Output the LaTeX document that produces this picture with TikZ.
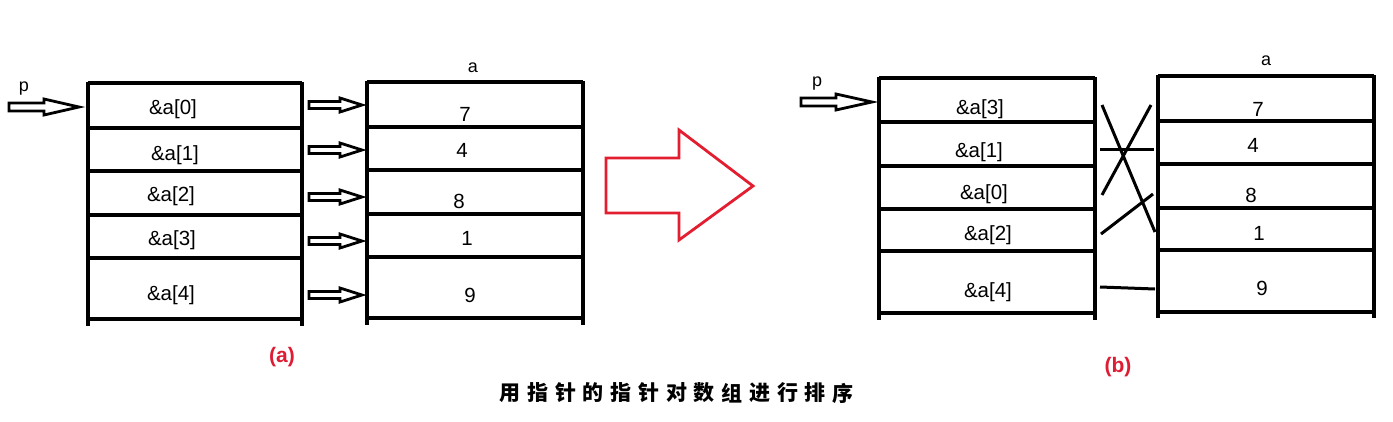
\documentclass[tikz,border=0pt]{standalone}
\usepackage{fontspec}
\setmainfont{Liberation Sans}
\newfontfamily\cjk{Noto Sans CJK SC Black}
\definecolor{lblred}{RGB}{222,28,52}
\definecolor{bigred}{RGB}{226,30,48}
\begin{document}
\begin{tikzpicture}[x=1pt,y=-1pt,
  grid/.style={line width=3.2pt,black},
  cell/.style={font=\fontsize{20.5}{22}\selectfont,inner sep=0pt,anchor=center},
  addr/.style={cell,yshift=-2pt},
  small/.style={font=\fontsize{18}{20}\selectfont,inner sep=0pt,anchor=center},
  lbl/.style={font=\bfseries\fontsize{21}{23}\selectfont,text=lblred,inner sep=0pt},
  hol/.style={line width=2.8pt,black,line join=miter},
  cross/.style={line width=3pt,black}]
\useasboundingbox (0,0) rectangle (1393,421);

% ---------- (a) left table
\foreach \y in {83,128,171,215,258,319} \draw[grid] (88,\y) -- (302,\y);
\draw[grid] (88,82) -- (88,326);
\draw[grid] (302,82) -- (302,326);
\node[addr] (pa0) at (173,107) {\&a[0]};
\node[addr] (pa1) at (175,153) {\&a[1]};
\node[addr] (pa2) at (171,194) {\&a[2]};
\node[addr] (pa3) at (172,238) {\&a[3]};
\node[addr] (pa4) at (171,293) {\&a[4]};
% ---------- (a) array a
\foreach \y in {82,127,170,214,257,318} \draw[grid] (367,\y) -- (583,\y);
\draw[grid] (367,81) -- (367,325);
\draw[grid] (583,81) -- (583,325);
\node[small] (aa) at (473,68) {a};
\node[cell] (v0) at (465,114) {7};
\node[cell] (v1) at (462,150) {4};
\node[cell] (v2) at (459,201) {8};
\node[cell] (v3) at (467,238) {1};
\node[cell] (v4) at (470,295) {9};
\node[small] (pp1) at (24,89) {p};

% hollow arrows
\coordinate (pstart) at (9,107);
\draw[hol] (pstart) ++(0,-4) -- ++(35,0) -- ++(0,-4) -- ++(35,8) -- ++(-35,8) -- ++(0,-4) -- ++(-35,0) -- cycle;
\foreach \y in {105,150,197,241,295}{
  \coordinate (h\y) at (309,\y);
  \draw[hol] (h\y) ++(0,-3.5) -- ++(31,0) -- ++(0,-3.5) -- ++(22,7) -- ++(-22,7) -- ++(0,-3.5) -- ++(-31,0) -- cycle;
}
\node[lbl] (la) at (282,357) {(a)};

% big red arrow
\draw[bigred,line width=2.8pt,line join=miter] (606,158) -- (679,158) -- (679,130) -- (753,186) -- (679,240) -- (679,213) -- (606,213) -- cycle;

% ---------- (b) left table
\foreach \y in {78,122,166,209,251,313} \draw[grid] (879,\y) -- (1095,\y);
\draw[grid] (879,77) -- (879,320);
\draw[grid] (1095,77) -- (1095,320);
\node[addr] (qa3) at (980,107) {\&a[3]};
\node[addr] (qa1) at (979,150) {\&a[1]};
\node[addr] (qa0) at (984,192) {\&a[0]};
\node[addr] (qa2) at (988,233) {\&a[2]};
\node[addr] (qa4) at (988,290) {\&a[4]};
\node[small] (pp2) at (817,84) {p};
\coordinate (qstart) at (801,102);
\draw[hol] (qstart) ++(0,-4) -- ++(35,0) -- ++(0,-4) -- ++(36,8) -- ++(-36,8) -- ++(0,-4) -- ++(-35,0) -- cycle;

% ---------- (b) array a
\foreach \y in {76,121,164,208,250,312} \draw[grid] (1158,\y) -- (1374,\y);
\draw[grid] (1158,75) -- (1158,318);
\draw[grid] (1374,75) -- (1374,318);
\node[small] (ab) at (1266,61) {a};
\node[cell] (w0) at (1258,109) {7};
\node[cell] (w1) at (1253,145) {4};
\node[cell] (w2) at (1251,195) {8};
\node[cell] (w3) at (1259,233) {1};
\node[cell] (w4) at (1262,288) {9};

% crossing links
\coordinate (s3) at (1102,105); \coordinate (t3) at (1155,232);
\coordinate (s0) at (1102,195); \coordinate (t0) at (1151,105);
\coordinate (s1) at (1100,149); \coordinate (t1) at (1154,149);
\coordinate (s2) at (1101,234); \coordinate (t2) at (1153,194);
\coordinate (s4) at (1100,287); \coordinate (t4) at (1155,289);
\draw[cross] (s3) -- (t3);
\draw[cross] (s0) -- (t0);
\draw[cross] (s1) -- (t1);
\draw[cross] (s2) -- (t2);
\draw[cross] (s4) -- (1128,288) -- (t4);
\node[lbl] (lb) at (1118,367) {(b)};

% caption
\foreach \c [count=\i] in {用,指,针,的,指,针,对,数,组,进,行,排,序}
  \node[font=\cjk\fontsize{21}{23}\selectfont,inner sep=0pt] (c\i) at ({510+27.75*(\i-1)},393) {\c};
\end{tikzpicture}
\end{document}
